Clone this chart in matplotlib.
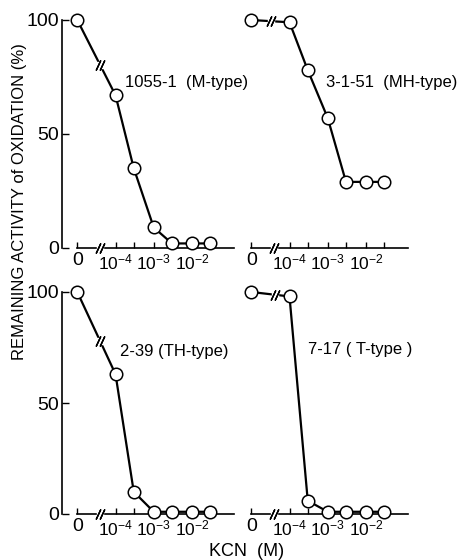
"""Remaining oxidation activity vs KCN concentration for four strains."""

import numpy as np
import matplotlib

matplotlib.use("Agg")
import matplotlib.pyplot as plt
from matplotlib import transforms

KCN = [0, 1e-4, 3e-4, 1e-3, 3e-3, 1e-2, 3e-2]
ACTIVITY_M = [100, 67, 35, 9, 2, 2, 2]
ACTIVITY_MH = [100, 99, 78, 57, 29, 29, 29]
ACTIVITY_TH = [100, 63, 10, 1, 1, 1, 1]
ACTIVITY_T = [100, 98, 6, 1, 1, 1, 1]
STRAINS = ["1055-1  (M-type)", "3-1-51  (MH-type)", "2-39 (TH-type)", "7-17 ( T-type )"]

XTICKS = [0, 1e-4, 3e-4, 1e-3, 3e-3, 1e-2, 3e-2]
XTICK_LABELS = ["", r"$\mathregular{10^{-4}}$", "", r"$\mathregular{10^{-3}}$", "",
                r"$\mathregular{10^{-2}}$", ""]
YTICKS = [0, 50, 100]
YTICK_LABELS = ["0", "50", "100"]

XMIN, XMAX = 10 ** -5.4, 10 ** -0.9
BREAK_X = 4e-5

plt.rcParams["font.family"] = ["Liberation Sans", "DejaVu Sans"]
plt.rcParams["mathtext.fontset"] = "custom"
plt.rcParams["mathtext.rm"] = "Liberation Sans"
plt.rcParams["mathtext.it"] = "Liberation Sans:italic"


def _forward(x):
    x = np.asarray(x, dtype=float)
    return np.log10(np.where(x > 0, x, 1e-5))


def _inverse(y):
    return 10 ** np.asarray(y, dtype=float)


def _break_mark(ax, x, y):
    fig = ax.figure
    ax.plot([x], [y], marker="s", ms=5, mfc="white", mec="white", zorder=4, clip_on=False)
    for dx in (-1.5, 1.5):
        tr = transforms.offset_copy(ax.transData, fig=fig, x=dx, y=0, units="points")
        ax.plot([x], [y], marker=(2, 2, -25), ms=8, color="black", mew=1.0,
                transform=tr, zorder=5, clip_on=False)


def _panel(fig, rect, values, label, label_pos, show_y, line_break):
    ax = fig.add_axes(rect)
    ax.patch.set_visible(False)
    ax.set_xscale("function", functions=(_forward, _inverse))
    ax.plot(KCN, values, color="black", lw=1.6, marker="o", ms=9, mfc="white",
            mec="black", mew=1.1, clip_on=False, zorder=3)

    for side in ("top", "right"):
        ax.spines[side].set_visible(False)
    ax.spines["bottom"].set_bounds(0, XMAX)
    ax.spines["bottom"].set_linewidth(1.2)
    ax.set_xticks(XTICKS)
    ax.set_xticklabels(XTICK_LABELS, fontsize=12.5)
    ax.tick_params(axis="x", direction="in", length=4, width=1.0, pad=3)
    ax.minorticks_off()
    ax.annotate("0", xy=(0, 0), xycoords=ax.get_xaxis_transform(), xytext=(0, -3),
                textcoords="offset points", ha="center", va="top", fontsize=14)

    if show_y:
        ax.spines["left"].set_bounds(0, 100)
        ax.spines["left"].set_linewidth(1.2)
        ax.set_yticks(YTICKS)
        ax.set_yticklabels(YTICK_LABELS, fontsize=14)
        ax.tick_params(axis="y", direction="in", length=5, width=1.0, pad=2)
    else:
        ax.spines["left"].set_visible(False)
        ax.set_yticks([])

    # limits after the ticks, set_xticks would stretch the view to include 0
    ax.set_xlim(XMIN, XMAX)
    ax.set_ylim(0, 100)

    ax.text(label_pos[0], label_pos[1], label, transform=ax.transAxes, fontsize=12,
            ha="left", va="center", zorder=6)

    # broken axis and broken line between 0 and the first concentration
    _break_mark(ax, BREAK_X, 0)
    y_line = np.interp(_forward(line_break), _forward(KCN[:2]), values[:2])
    _break_mark(ax, line_break, y_line)
    return ax


def main() -> None:
    fig = plt.figure(figsize=(4.7, 5.6), dpi=100)
    W, H = 470, 560
    width = 172 / W
    top_h, bottom_h = 228 / H, 222 / H
    top_y, bottom_y = (H - 248) / H, (H - 514) / H

    _panel(fig, [62 / W, top_y, width, top_h], ACTIVITY_M, STRAINS[0], (0.366, 0.728),
           True, 4e-5)
    _panel(fig, [236 / W, top_y, width, top_h], ACTIVITY_MH, STRAINS[1], (0.523, 0.728),
           False, 3.2e-5)
    _panel(fig, [62 / W, bottom_y, width, bottom_h], ACTIVITY_TH, STRAINS[2], (0.337, 0.73),
           True, 4e-5)
    _panel(fig, [236 / W, bottom_y, width, bottom_h], ACTIVITY_T, STRAINS[3], (0.419, 0.739),
           False, 4.2e-5)

    fig.text(20 / W, 1 - 202 / H, "REMAINING ACTIVITY of OXIDATION (%)", rotation=90,
             ha="center", va="center", fontsize=12)
    fig.text(247 / W, 1 - 552 / H, "KCN  (M)", ha="center", va="center", fontsize=13)

    fig.savefig("out.png", dpi=100)
    plt.close(fig)


if __name__ == "__main__":
    main()
